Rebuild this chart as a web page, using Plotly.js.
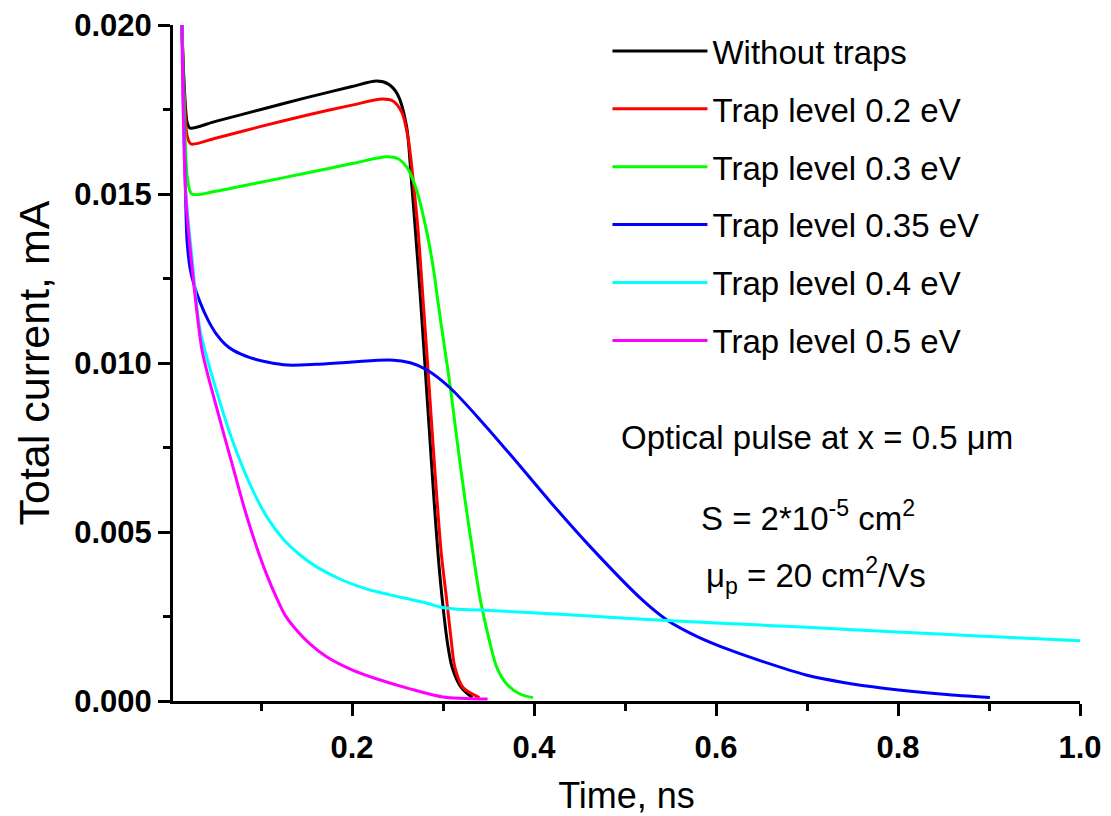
<!DOCTYPE html>
<html>
<head>
<meta charset="utf-8">
<script src="https://cdn.plot.ly/plotly-3.0.1.min.js"></script>
<style>html,body{margin:0;padding:0;background:#fff;}#chart{width:1111px;height:816px;}</style>
</head>
<body>
<div id="chart"></div>
<script>
// ---- data (time in ns, current in mA) ----
var names = ["Without traps", "Trap level 0.2 eV", "Trap level 0.3 eV", "Trap level 0.35 eV", "Trap level 0.4 eV", "Trap level 0.5 eV"];
var colors = ["#000000", "#ff0000", "#00ff00", "#0000ff", "#00ffff", "#ff00ff"];

var tBlack = [0.013, 0.016, 0.019, 0.022, 0.05, 0.1, 0.15, 0.2, 0.227, 0.24, 0.25, 0.26, 0.265, 0.27, 0.275, 0.28, 0.285, 0.29, 0.295, 0.30, 0.305, 0.31, 0.32, 0.332];
var iBlack = [0.0200, 0.0180, 0.0171, 0.01695, 0.01715, 0.0175, 0.01785, 0.01818, 0.01834, 0.01825, 0.01795, 0.0170, 0.0155, 0.0138, 0.0120, 0.0100, 0.0080, 0.0060, 0.0042, 0.0028, 0.0017, 0.0010, 0.0004, 0.0001];

var tRed = [0.013, 0.016, 0.019, 0.023, 0.05, 0.1, 0.15, 0.2, 0.233, 0.245, 0.255, 0.262, 0.268, 0.273, 0.278, 0.283, 0.288, 0.293, 0.298, 0.304, 0.309, 0.313, 0.322, 0.34];
var iRed = [0.0200, 0.0178, 0.0167, 0.01648, 0.01665, 0.0170, 0.01733, 0.01763, 0.01781, 0.01775, 0.0174, 0.0166, 0.0152, 0.0138, 0.0119, 0.0100, 0.0080, 0.0061, 0.0044, 0.0030, 0.0018, 0.0010, 0.0004, 0.0001];

var tGreen = [0.013, 0.016, 0.019, 0.024, 0.05, 0.1, 0.15, 0.2, 0.238, 0.25, 0.26, 0.27, 0.282, 0.29, 0.294, 0.302, 0.308, 0.315, 0.325, 0.335, 0.341, 0.35, 0.359, 0.37, 0.385, 0.399];
var iGreen = [0.0200, 0.0172, 0.0155, 0.0150, 0.01508, 0.01535, 0.01562, 0.0159, 0.0161, 0.01605, 0.0158, 0.0152, 0.0139, 0.0127, 0.0119, 0.0104, 0.0093, 0.0078, 0.0058, 0.0040, 0.0030, 0.0019, 0.0010, 0.0005, 0.0002, 0.0001];

var tBlue = [0.0132, 0.0154, 0.0170, 0.0187, 0.022, 0.0264, 0.033, 0.0418, 0.0516, 0.0604, 0.0692, 0.0879, 0.1066, 0.1297, 0.16, 0.2, 0.242, 0.265, 0.282, 0.308, 0.344, 0.38, 0.418, 0.462, 0.519, 0.546, 0.58, 0.615, 0.65, 0.699, 0.74, 0.784, 0.85, 0.901];
var iBlue = [0.0200, 0.01689, 0.01512, 0.01364, 0.01281, 0.01231, 0.01180, 0.01127, 0.01083, 0.01056, 0.01038, 0.01016, 0.01003, 0.00994, 0.00996, 0.01003, 0.01009, 0.0100, 0.0098, 0.00926, 0.00822, 0.0071, 0.00589, 0.00456, 0.00299, 0.0024, 0.0019, 0.00151, 0.00118, 0.00077, 0.00055, 0.00038, 0.0002, 0.0001];

var tCyan = [0.0132, 0.0143, 0.0176, 0.0242, 0.033, 0.0505, 0.0692, 0.0879, 0.1066, 0.1253, 0.1429, 0.1615, 0.189, 0.2165, 0.2418, 0.267, 0.2857, 0.2967, 0.3132, 0.3407, 0.4286, 0.5, 0.6, 0.7, 0.8, 0.9, 1.0];
var iCyan = [0.0200, 0.01778, 0.01497, 0.01311, 0.01098, 0.00923, 0.00766, 0.00641, 0.00544, 0.00476, 0.00432, 0.00396, 0.00358, 0.00331, 0.00314, 0.00299, 0.00287, 0.00278, 0.00272, 0.00269, 0.00257, 0.00245, 0.00231, 0.00218, 0.00204, 0.00191, 0.00178];

var tMagenta = [0.0132, 0.0143, 0.0176, 0.0242, 0.0352, 0.0495, 0.0692, 0.0813, 0.0934, 0.1055, 0.1176, 0.1264, 0.1352, 0.1538, 0.1725, 0.2, 0.2275, 0.2637, 0.3, 0.349];
var iMagenta = [0.0200, 0.01778, 0.01482, 0.01284, 0.01038, 0.00885, 0.00692, 0.00574, 0.0047, 0.00379, 0.00302, 0.00254, 0.00222, 0.00169, 0.0013, 0.00092, 0.00065, 0.00036, 0.00012, 0.00006];

var xs = [tBlack, tRed, tGreen, tBlue, tCyan, tMagenta];
var ys = [iBlack, iRed, iGreen, iBlue, iCyan, iMagenta];

var xTickVals = [0.2, 0.4, 0.6, 0.8, 1.0];
var xTickText = ["0.2", "0.4", "0.6", "0.8", "1.0"];
var yTickVals = [0, 0.005, 0.010, 0.015, 0.020];
var yTickText = ["0.000", "0.005", "0.010", "0.015", "0.020"];

var noteLines = ["Optical pulse at x = 0.5 \u03bcm", "S = 2*10<sup>-5</sup> cm<sup>2</sup>", "\u03bc<sub>p</sub> = 20 cm<sup>2</sup>/Vs"];

// ---- build ----
var FONT = "Liberation Sans, Arial, sans-serif";
var traces = [];
for (var k = 0; k < names.length; k++) {
  traces.push({
    x: xs[k], y: ys[k], type: "scatter", mode: "lines", name: names[k],
    legendgroup: "g" + k,
    line: {color: colors[k], width: 3, shape: "spline", smoothing: 0.8}
  });
}

var axisCommon = {
  showgrid: false, zeroline: false, showline: true, linecolor: "#000", linewidth: 3,
  ticks: "outside", ticklen: 12, tickwidth: 3, tickcolor: "#000",
  tickfont: {family: FONT, size: 31, color: "#000", weight: "bold"},
  tickmode: "array", mirror: false
};

var layout = {
  width: 1111, height: 816,
  margin: {l: 173, r: 31, t: 25, b: 115},
  paper_bgcolor: "#fff", plot_bgcolor: "#fff",
  font: {family: FONT, color: "#000"},
  showlegend: true,
  legend: {
    x: 0.479, y: 1.003, xanchor: "left", yanchor: "top",
    font: {family: FONT, size: 33, color: "#000"},
    bgcolor: "rgba(0,0,0,0)", borderwidth: 0,
    traceorder: "grouped", tracegroupgap: 12, itemwidth: 95
  },
  xaxis: Object.assign({}, axisCommon, {
    range: [0.0033, 1.0], tickvals: xTickVals, ticktext: xTickText, ticklabelstandoff: 5,
    minor: {tickvals: [0.1, 0.3, 0.5, 0.7, 0.9], ticklen: 7, tickwidth: 3, tickcolor: "#000", ticks: "outside"},
    title: {text: "Time, ns", font: {family: FONT, size: 36, color: "#000"}, standoff: 22}
  }),
  yaxis: Object.assign({}, axisCommon, {
    range: [0, 0.020], tickvals: yTickVals, ticktext: yTickText,
    minor: {tickvals: [0.0025, 0.0075, 0.0125, 0.0175], ticklen: 7, tickwidth: 3, tickcolor: "#000", ticks: "outside"},
    title: {text: "Total current, mA", font: {family: FONT, size: 43, color: "#000"}, standoff: 12}
  }),
  annotations: [
    {xref: "paper", yref: "paper", x: 0.71, y: 0.39, xanchor: "center", yanchor: "middle", showarrow: false,
     text: noteLines[0], font: {family: FONT, size: 33, color: "#000"}},
    {xref: "paper", yref: "paper", x: 0.70, y: 0.273, xanchor: "center", yanchor: "middle", showarrow: false,
     text: noteLines[1], font: {family: FONT, size: 33, color: "#000"}},
    {xref: "paper", yref: "paper", x: 0.585, y: 0.186, xanchor: "left", yanchor: "middle", showarrow: false,
     text: noteLines[2], font: {family: FONT, size: 33, color: "#000"}}
  ]
};

Plotly.newPlot("chart", traces, layout, {displayModeBar: false, staticPlot: true});
</script>
</body>
</html>
